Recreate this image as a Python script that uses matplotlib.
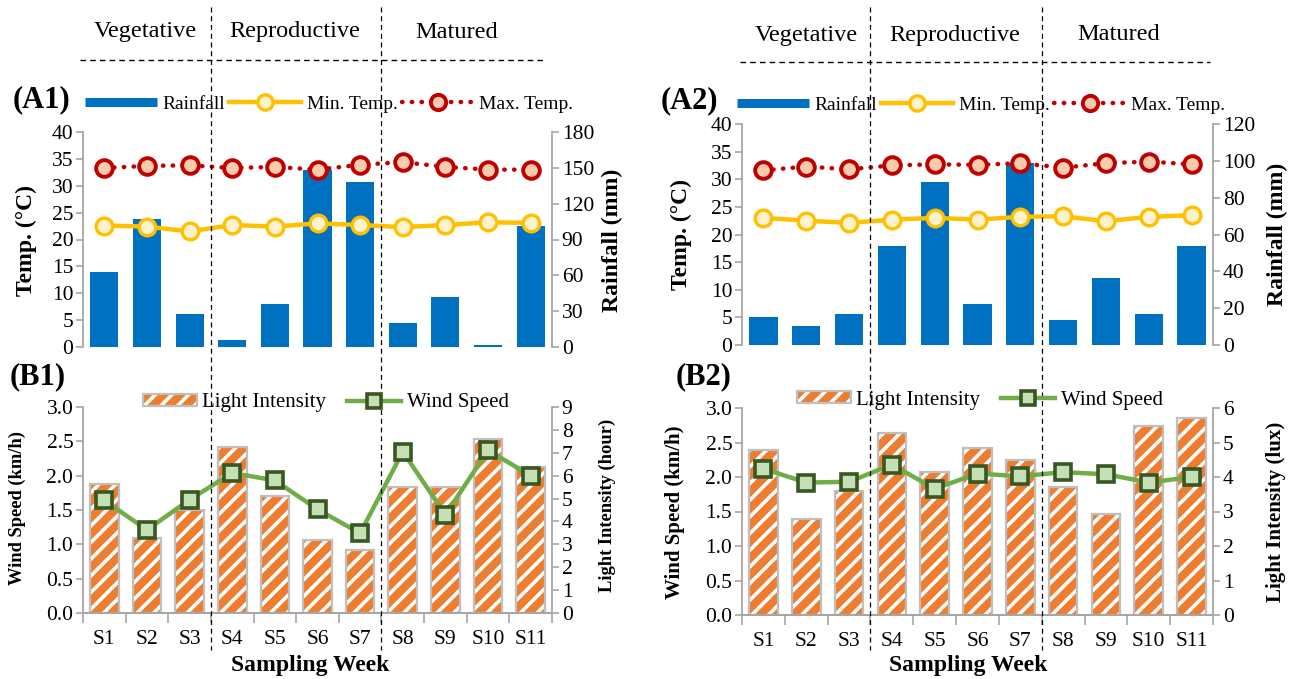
import matplotlib
matplotlib.use("Agg")
import matplotlib.pyplot as plt
import numpy as np
from matplotlib.lines import Line2D
from matplotlib.patches import Patch
from matplotlib.legend_handler import HandlerTuple

plt.rcParams["font.family"] = ["Liberation Serif", "DejaVu Serif"]
plt.rcParams["hatch.linewidth"] = 2.6

W, H = 1293, 679  # output size in pixels (dpi 100)

# ---- data ----
weeks = [f"S{i}" for i in range(1, 12)]
phases = ["Vegetative", "Reproductive", "Matured"]

rain_1 = [62.5, 107.0, 28.0, 5.5, 36.0, 148.0, 138.5, 20.5, 41.5, 2.0, 101.0]
tmin_1 = [22.6, 22.4, 21.5, 22.7, 22.4, 23.0, 22.7, 22.3, 22.7, 23.2, 23.1]
tmax_1 = [33.3, 33.7, 33.8, 33.3, 33.5, 33.0, 33.9, 34.4, 33.5, 33.0, 33.0]

rain_2 = [15.0, 10.3, 16.9, 53.8, 88.5, 22.3, 98.7, 13.6, 36.4, 16.9, 53.6]
tmin_2 = [23.0, 22.5, 22.1, 22.7, 23.0, 22.7, 23.2, 23.3, 22.4, 23.2, 23.5]
tmax_2 = [31.6, 32.3, 31.8, 32.5, 32.7, 32.6, 32.9, 32.1, 32.9, 33.2, 32.7]

light_1 = [5.65, 3.26, 4.49, 7.25, 5.13, 3.20, 2.76, 5.51, 5.51, 7.59, 6.38]
wind_1 = [1.64, 1.21, 1.65, 2.04, 1.93, 1.51, 1.16, 2.35, 1.43, 2.37, 2.00]

light_2 = [4.77, 2.78, 3.59, 5.27, 4.14, 4.85, 4.48, 3.70, 2.93, 5.48, 5.71]
wind_2 = [2.12, 1.92, 1.93, 2.18, 1.83, 2.05, 2.01, 2.07, 2.04, 1.92, 2.00]

# ---- colours ----
BLUE = "#0070C0"
YEL, YEL_FACE = "#FFC000", "#FFF2CC"
RED, RED_FACE = "#C00000", "#F8CBAD"
ORANGE = "#ED7D31"
GREEN, GREEN_FACE, GREEN_EDGE = "#70AD47", "#C5E0B4", "#385723"
SPINE = "#A6A6A6"

TICK_FS = 15.5


def fx(px):
    return px / W


def fy(py):
    return 1 - py / H


def rect(x0, y0, x1, y1):
    """pixel box (top-left origin) -> add_axes rect"""
    return [fx(x0), fy(y1), fx(x1) - fx(x0), fy(y0) - fy(y1)]


def style_axes(ax, axr, bottom):
    for a in (ax, axr):
        a.spines["top"].set_visible(False)
        for side in ("left", "right", "bottom"):
            a.spines[side].set_color(SPINE)
            a.spines[side].set_linewidth(1.3)
        a.spines["bottom"].set_visible(bottom)
        a.tick_params(axis="y", direction="out", length=5, width=1.2,
                      color=SPINE, labelsize=TICK_FS, pad=2)
    ax.spines["right"].set_visible(False)
    axr.spines["left"].set_visible(False)


def temp_panel(box, rain, tmin, tmax, rain_max, rain_step):
    x = np.arange(1, len(weeks) + 1)
    ax = fig.add_axes(box)
    axr = ax.twinx()
    ax.set_zorder(axr.get_zorder() + 1)
    ax.patch.set_visible(False)

    axr.bar(x, rain, width=0.66, color=BLUE)
    ax.plot(x, tmin, color=YEL, lw=3.2, marker="o", ms=12,
            mfc=YEL_FACE, mec=YEL, mew=2.4)
    ax.plot(x, tmax, color=RED, lw=3.2, ls=(0, (0.1, 2.1)), dash_capstyle="round",
            marker="o", ms=12, mfc=RED_FACE, mec=RED, mew=2.8)

    ax.set_xlim(0.5, 11.5)
    ax.set_ylim(0, 40)
    ax.set_yticks(np.arange(0, 41, 5))
    axr.set_ylim(0, rain_max)
    axr.set_yticks(np.arange(0, rain_max + 1, rain_step))
    ax.set_xticks([])
    style_axes(ax, axr, bottom=False)
    return ax


def light_panel(box, light, wind, light_max):
    x = np.arange(1, len(weeks) + 1)
    ax = fig.add_axes(box)
    axr = ax.twinx()
    ax.set_zorder(axr.get_zorder() + 1)
    ax.patch.set_visible(False)

    axr.bar(x, light, width=0.67, color=ORANGE, edgecolor="white", hatch="//", lw=0)
    axr.bar(x, light, width=0.67, fill=False, edgecolor="#BFBFBF", lw=1.6)
    ax.plot(x, wind, color=GREEN, lw=3.2, marker="s", ms=11.5,
            mfc=GREEN_FACE, mec=GREEN_EDGE, mew=2.6)

    ax.set_xlim(0.5, 11.5)
    ax.set_ylim(0, 3)
    ax.set_yticks(np.arange(0, 3.01, 0.5))
    ax.set_yticklabels([f"{v:.1f}" for v in np.arange(0, 3.01, 0.5)])
    axr.set_ylim(0, light_max)
    axr.set_yticks(np.arange(0, light_max + 1, 1))

    # category boundaries get the tick marks, centres get the labels
    ax.set_xticks(np.arange(0.5, 12, 1))
    ax.set_xticklabels([])
    ax.set_xticks(x, minor=True)
    ax.set_xticklabels(weeks, minor=True)
    ax.tick_params(axis="x", which="major", direction="out", length=7,
                   width=1.2, color=SPINE)
    ax.tick_params(axis="x", which="minor", length=0, labelsize=TICK_FS, pad=12)
    style_axes(ax, axr, bottom=True)
    return ax


def phase_marks(ax, y_text, y_rule, x_rule, x_text):
    for xt, name in zip(x_text, phases):
        fig.text(fx(xt), fy(y_text), name, ha="center", va="center", fontsize=17.5)
    fig.add_artist(Line2D([fx(x_rule[0]), fx(x_rule[1])], [fy(y_rule)] * 2,
                          transform=fig.transFigure, color="black", lw=1.0,
                          ls=(0, (4, 3))))
    for xd in (3.5, 7.5):
        xp = ax.transData.transform((xd, 0))[0]
        xf = fig.transFigure.inverted().transform((xp, 0))[0]
        fig.add_artist(Line2D([xf, xf], [fy(7), fy(650)], transform=fig.transFigure,
                              color="black", lw=0.9, ls=(0, (4, 3))))


fig = plt.figure(figsize=(W / 100, H / 100), dpi=100)

a1 = temp_panel(rect(83, 132, 552, 347), rain_1, tmin_1, tmax_1, 180, 30)
b1 = light_panel(rect(83, 407, 552, 613), light_1, wind_1, 9)
a2 = temp_panel(rect(742, 124, 1213, 345), rain_2, tmin_2, tmax_2, 120, 20)
b2 = light_panel(rect(742, 408, 1213, 615), light_2, wind_2, 6)

phase_marks(a1, 32, 60, (80, 543), (145, 295, 457))
phase_marks(a2, 35, 62, (740, 1210), (806, 955, 1119))

# ---- panel tags ----
for tag, xp, yp in (("(A1)", 41, 100), ("(B1)", 38, 377),
                    ("(A2)", 689, 101), ("(B2)", 704, 377)):
    fig.text(fx(xp), fy(yp), tag, ha="center", va="center", fontsize=22,
             fontweight="bold")

# ---- axis titles ----
ylabels = [
    ("Temp. (°C)", 26, 240, 17), ("Rainfall (mm)", 612, 240, 17),
    ("Wind Speed (km/h)", 17, 508, 13.3), ("Light Intensity (hour)", 607, 505, 13.3),
    ("Temp. (°C)", 681, 234, 17), ("Rainfall (mm)", 1277, 234, 17),
    ("Wind Speed (km/h)", 675, 512, 15), ("Light Intensity (lux)", 1276, 512, 15),
]
for txt, xp, yp, fs in ylabels:
    fig.text(fx(xp), fy(yp), txt, rotation=90, ha="center", va="center",
             fontsize=fs, fontweight="bold")
for xp in (310, 968):
    fig.text(fx(xp), fy(666), "Sampling Week", ha="center", va="center",
             fontsize=17, fontweight="bold")

# ---- legends ----
temp_handles = [
    Line2D([], [], color=BLUE, lw=6.5, solid_capstyle="butt"),
    Line2D([], [], color=YEL, lw=3.2, marker="o", ms=11, mfc=YEL_FACE, mec=YEL, mew=2.4),
    Line2D([], [], color=RED, lw=3.2, ls=(0, (0.1, 2.1)), dash_capstyle="round",
           marker="o", ms=11, mfc=RED_FACE, mec=RED, mew=2.8),
]
temp_labels = ["Rainfall", "Min. Temp.", "Max. Temp."]
for x0, y0 in ((85, 104), (737, 105)):
    fig.legend(temp_handles, temp_labels, loc="center left",
               bbox_to_anchor=(fx(x0), fy(y0)), ncol=3, frameon=False,
               fontsize=14, handlelength=3.7, handletextpad=0.3,
               columnspacing=0.2, borderpad=0, borderaxespad=0)

light_handle = (Patch(facecolor=ORANGE, edgecolor="white", hatch="//", lw=0),
                Patch(fill=False, edgecolor="#BFBFBF", lw=1.6))
wind_handle = Line2D([], [], color=GREEN, lw=3.2, marker="s", ms=10,
                     mfc=GREEN_FACE, mec=GREEN_EDGE, mew=2.6)
for x0, y0 in ((143, 403), (797, 400)):
    fig.legend([light_handle, wind_handle], ["Light Intensity", "Wind Speed"],
               loc="center left", bbox_to_anchor=(fx(x0), fy(y0)), ncol=2,
               frameon=False, fontsize=15, handlelength=2.6, handleheight=0.55,
               handletextpad=0.25, columnspacing=1.0, borderpad=0, borderaxespad=0,
               handler_map={tuple: HandlerTuple(ndivide=1)})

fig.savefig("out.png", dpi=100)
